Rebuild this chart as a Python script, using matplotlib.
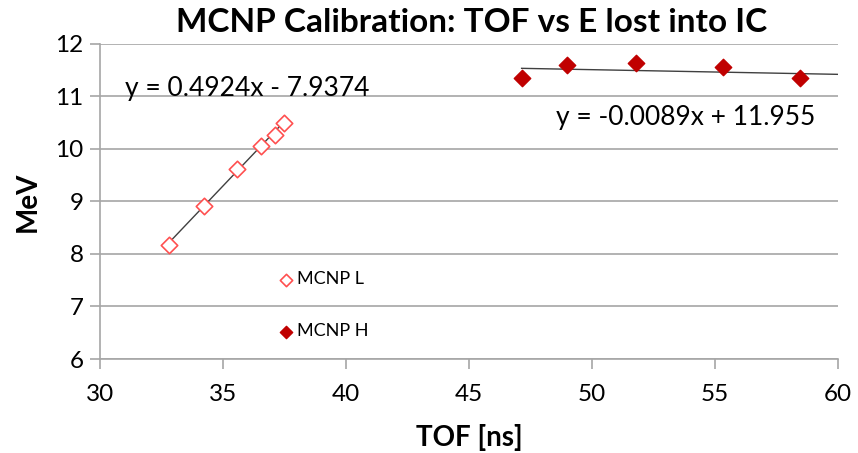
import numpy as np
import matplotlib
matplotlib.use("Agg")
import matplotlib.pyplot as plt

plt.rcParams['font.family'] = ['Lato', 'DejaVu Sans']

# Data
tof_L = [32.82, 34.24, 35.56, 36.53, 37.11, 37.48]
mev_L = [8.17, 8.91, 9.61, 10.06, 10.27, 10.49]
tof_H = [47.14, 48.97, 51.79, 55.34, 58.46]
mev_H = [11.36, 11.59, 11.63, 11.56, 11.36]
slope_L, icpt_L = 0.4924, -7.9374
slope_H, icpt_H = -0.0089, 11.955
xticks = [30, 35, 40, 45, 50, 55, 60]
yticks = [6, 7, 8, 9, 10, 11, 12]

fig = plt.figure(figsize=(8.58, 4.53), dpi=100)
ax = fig.add_axes([0.1166, 0.2075, 0.860, 0.6955])

ax.set_xlim(30, 60)
ax.set_ylim(6, 12)
ax.set_xticks(xticks)
ax.set_yticks(yticks)
ax.grid(axis='y', color='#a6a6a6', linewidth=1.2)
ax.set_axisbelow(True)
for s in ['top', 'right']:
    ax.spines[s].set_visible(False)
for s in ['left', 'bottom']:
    ax.spines[s].set_color('#a6a6a6')
    ax.spines[s].set_linewidth(1.2)
ax.tick_params(axis='both', labelsize=17.5, color='#a6a6a6', length=7, width=1.2)
ax.tick_params(axis='x', pad=11)
ax.tick_params(axis='y', pad=5)

# trendlines
xl = np.array([min(tof_L), max(tof_L)])
ax.plot(xl, slope_L * xl + icpt_L, color='#404040', linewidth=1.0, zorder=2)
xh = np.array([min(tof_H), 60])
ax.plot(xh, slope_H * xh + icpt_H, color='#404040', linewidth=1.0, zorder=2)

ax.scatter(tof_L, mev_L, marker='D', s=70, facecolors='white', edgecolors='#ff5050',
           linewidths=1.2, label='MCNP L', zorder=3)
ax.scatter(tof_H, mev_H, marker='D', s=70, facecolors='#c00000', edgecolors='#c00000',
           label='MCNP H', zorder=3)

ax.text(31.0, 11.16, 'y = 0.4924x - 7.9374', fontsize=19, va='center', ha='left')
ax.text(48.55, 10.6, 'y = -0.0089x + 11.955', fontsize=19, va='center', ha='left')

leg = ax.legend(loc='upper left', bbox_to_anchor=(0.218, 0.33), frameon=False,
                fontsize=13, labelspacing=2.0, handletextpad=0.1, handlelength=1.0,
                scatterpoints=1, markerscale=0.75)

ax.set_xlabel('TOF [ns]', fontsize=20, fontweight='bold', labelpad=14)
ax.set_ylabel('MeV', fontsize=20, fontweight='bold', labelpad=10)
fig.suptitle('MCNP Calibration: TOF vs E lost into IC', fontsize=24, fontweight='bold',
             x=0.55, y=0.983)

fig.savefig('out.png', dpi=100)
